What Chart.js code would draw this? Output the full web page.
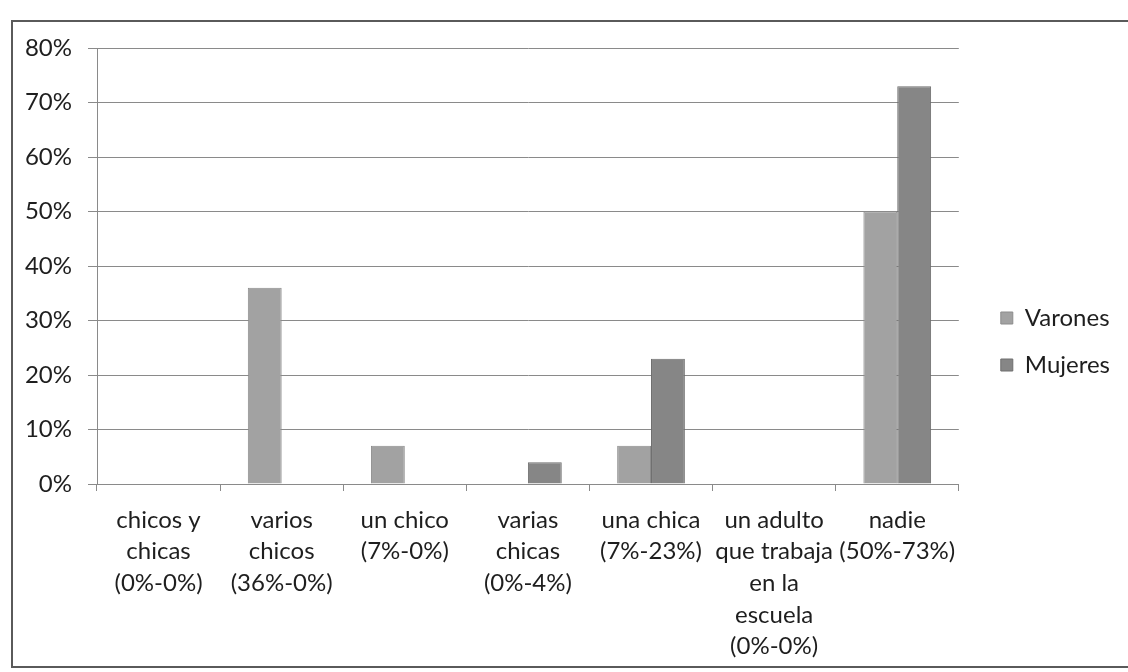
<!DOCTYPE html>
<html>
<head>
<meta charset="utf-8">
<script src="https://cdn.jsdelivr.net/npm/chart.js@4.4.1/dist/chart.umd.min.js"></script>
<style>
  html, body { margin: 0; padding: 0; background: #ffffff; width: 1128px; height: 672px; overflow: hidden; }
  #frame { position: absolute; left: 11px; top: 20px; width: 1130px; height: 648px; border: 2px solid #5a5a5a; box-sizing: border-box; }
  #wrap { position: absolute; left: 14px; top: 23px; width: 1110px; height: 641px; }
</style>
</head>
<body>
<div id="frame"></div>
<div id="wrap"><canvas id="c"></canvas></div>
<script>
const categories = [
  ["chicos y", "chicas", "(0%-0%)"],
  ["varios", "chicos", "(36%-0%)"],
  ["un chico", "(7%-0%)"],
  ["varias", "chicas", "(0%-4%)"],
  ["una chica", "(7%-23%)"],
  ["un adulto", "que trabaja", "en la", "escuela", "(0%-0%)"],
  ["nadie", "(50%-73%)"]
];
const varones = [0, 36, 7, 0, 7, 0, 50];
const mujeres = [0, 0, 0, 4, 23, 0, 73];
const yTicks = [0, 10, 20, 30, 40, 50, 60, 70, 80];

const FONT = "Lato";
const TXT = "#1e1e1e";

new Chart(document.getElementById("c"), {
  type: "bar",
  data: {
    labels: categories,
    datasets: [
      { label: "Varones", data: varones, backgroundColor: "#a2a2a2", borderColor: "#8c8c8c", borderWidth: 1 },
      { label: "Mujeres", data: mujeres, backgroundColor: "#868686", borderColor: "#6e6e6e", borderWidth: 1 }
    ]
  },
  options: {
    responsive: true,
    maintainAspectRatio: false,
    animation: false,
    categoryPercentage: 0.55,
    barPercentage: 1.0,
    layout: { padding: { top: 0, right: 4, bottom: 4, left: 0 } },
    plugins: {
      tooltip: { enabled: false },
      legend: {
        position: "right",
        align: "center",
        labels: {
          font: { family: FONT, size: 24 },
          color: TXT,
          boxWidth: 12,
          boxHeight: 12,
          padding: 23
        }
      }
    },
    scales: {
      x: {
        offset: true,
        grid: { display: true, drawOnChartArea: false, drawTicks: true, tickLength: 7, color: "#8a8a8a", offset: true },
        border: { display: true, color: "#8a8a8a", width: 1 },
        ticks: {
          font: { family: FONT, size: 24, lineHeight: 1.32 },
          color: TXT,
          maxRotation: 0,
          minRotation: 0,
          autoSkip: false,
          padding: 13
        },
        afterFit: (s) => { s.height = 176; s.paddingLeft = 0; s.paddingRight = 0; }
      },
      y: {
        min: 0,
        max: 80,
        afterBuildTicks: (s) => { s.ticks = yTicks.map(v => ({ value: v })); },
        grid: { color: "#8a8a8a", lineWidth: 1, tickLength: 9, drawTicks: true },
        border: { display: true, color: "#8a8a8a", width: 1 },
        ticks: {
          font: { family: FONT, size: 24 },
          color: TXT,
          padding: 16,
          callback: (v) => v + "%"
        },
        afterFit: (s) => { s.width = 83; s.paddingTop = 25; s.paddingBottom = 0; }
      },
      gap: {
        type: "linear",
        position: "right",
        display: true,
        grid: { display: false },
        border: { display: false },
        ticks: { display: false },
        afterFit: (s) => { s.width = 19; s.paddingTop = 0; s.paddingBottom = 0; }
      }
    }
  }
});
</script>
</body>
</html>
